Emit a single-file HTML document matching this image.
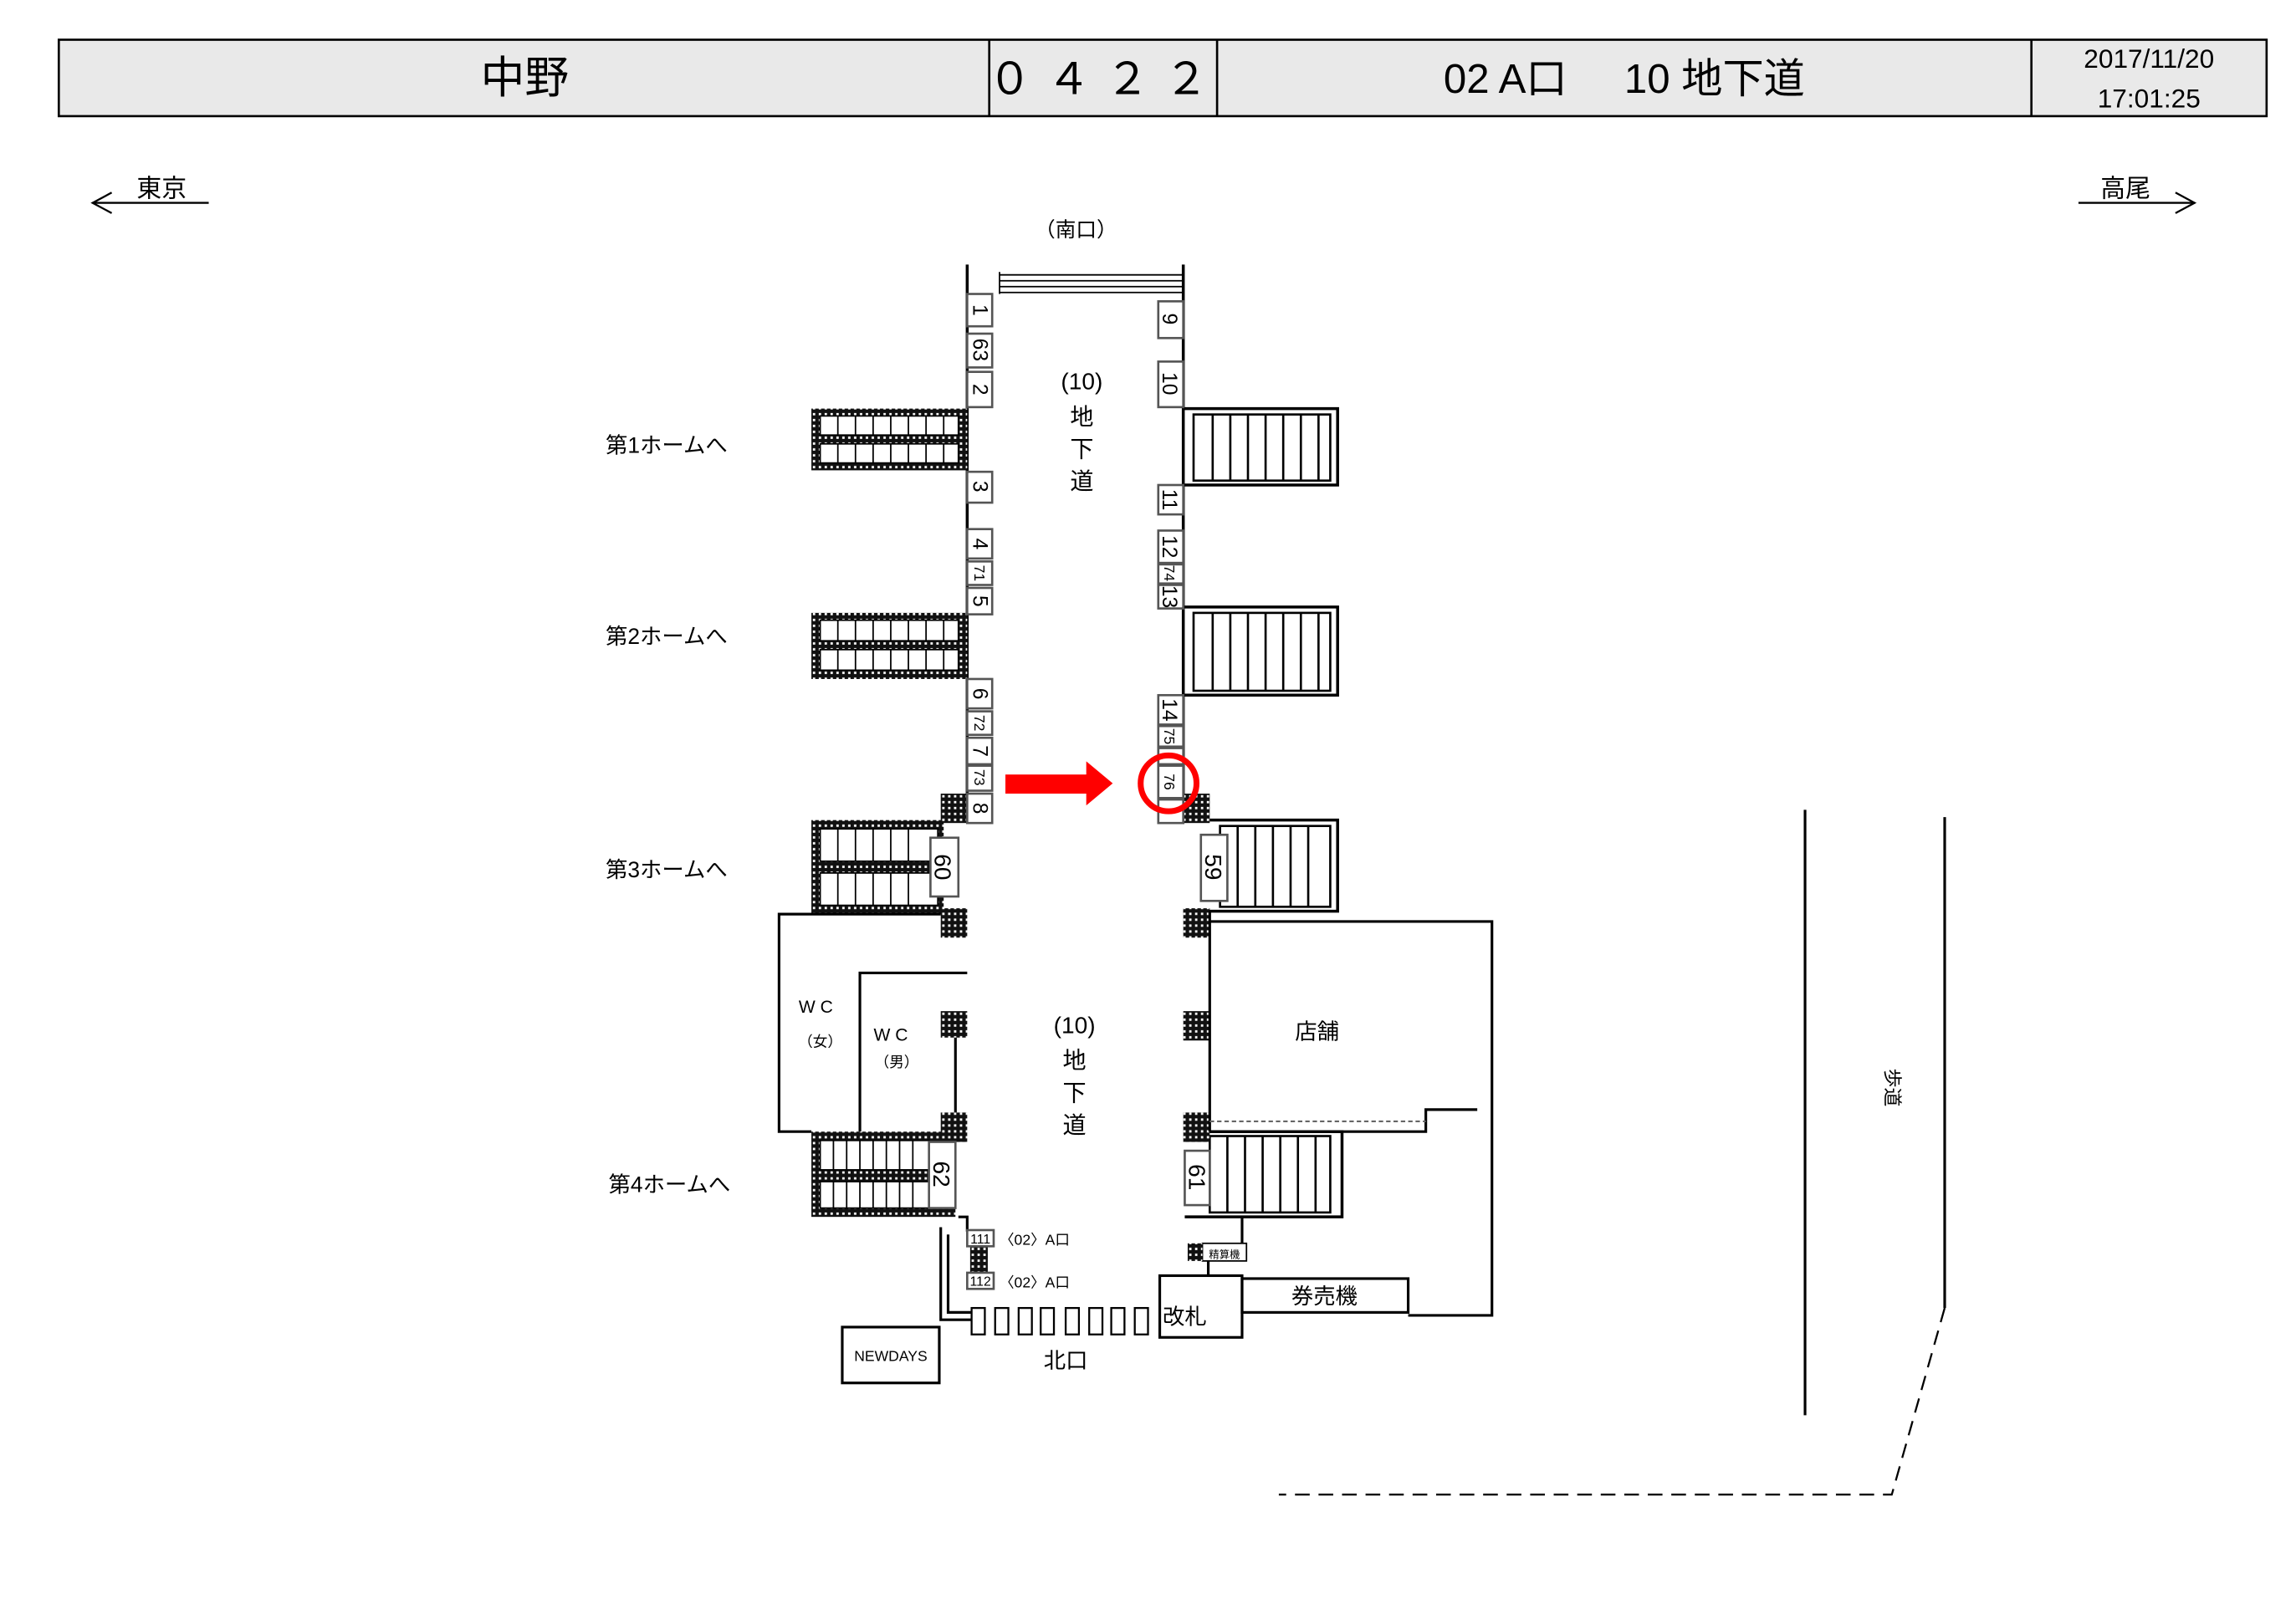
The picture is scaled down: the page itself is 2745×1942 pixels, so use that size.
<!DOCTYPE html>
<html><head><meta charset="utf-8"><style>
html,body{margin:0;padding:0;background:#fff;}
svg{display:block;}
text{font-family:"Liberation Sans","Noto Sans CJK JP",sans-serif;fill:#000;}
</style></head><body>
<svg width="2745" height="1942" viewBox="0 0 1562 1105" xmlns="http://www.w3.org/2000/svg">
<defs>
<pattern id="dots" width="4" height="4" patternUnits="userSpaceOnUse">
<rect width="4" height="4" fill="#111"/><rect x="1" y="1" width="1.6" height="1.6" fill="#fff"/>
</pattern>
</defs>
<rect width="1562" height="1105" fill="#fff"/>
<rect x="40" y="27" width="1502" height="52" fill="#e9e9e9" stroke="#000" stroke-width="1.5"/>
<line x1="673" y1="27" x2="673" y2="79" stroke="#000" stroke-width="1.5"/>
<line x1="828" y1="27" x2="828" y2="79" stroke="#000" stroke-width="1.5"/>
<line x1="1382" y1="27" x2="1382" y2="79" stroke="#000" stroke-width="1.5"/>
<text x="357" y="63" font-size="30" text-anchor="middle">中野</text>
<text x="752" y="64" font-size="30" text-anchor="middle" letter-spacing="10">０４２２</text>
<text x="1105" y="63" font-size="28" text-anchor="middle" xml:space="preserve">02 A口     10 地下道</text>
<text x="1462" y="46" font-size="18" text-anchor="middle">2017/11/20</text>
<text x="1462" y="73" font-size="18" text-anchor="middle">17:01:25</text>
<g stroke="#000" stroke-width="1.3" fill="none">
<line x1="63" y1="138" x2="142" y2="138"/><polyline points="76,131 63,138 76,145"/>
<line x1="1414" y1="138" x2="1493" y2="138"/><polyline points="1480,131 1493,138 1480,145"/>
</g>
<text x="110" y="134" font-size="17" text-anchor="middle">東京</text>
<text x="1446" y="134" font-size="17" text-anchor="middle">高尾</text>
<text x="732" y="161" font-size="14" text-anchor="middle">（南口）</text>

<g stroke="#000" stroke-width="2" fill="none">
<line x1="658" y1="180" x2="658" y2="560"/>
<line x1="805" y1="180" x2="805" y2="560"/>
</g>
<g stroke="#000" stroke-width="1">
<line x1="680" y1="185" x2="680" y2="200"/>
<line x1="680" y1="187" x2="805" y2="187"/><line x1="680" y1="191" x2="805" y2="191"/>
<line x1="680" y1="195" x2="805" y2="195"/><line x1="680" y1="199" x2="805" y2="199"/>
</g>

<g>
<rect x="552" y="278" width="106" height="42" fill="url(#dots)"/>
<rect x="558" y="283" width="94" height="13" fill="#fff" stroke="#000"/>
<rect x="558" y="302" width="94" height="13" fill="#fff" stroke="#000"/>
<rect x="552" y="417" width="106" height="45" fill="url(#dots)"/>
<rect x="558" y="422" width="94" height="14" fill="#fff" stroke="#000"/>
<rect x="558" y="442" width="94" height="14" fill="#fff" stroke="#000"/>
<rect x="552" y="558" width="90" height="64" fill="url(#dots)"/>
<rect x="558" y="564" width="80" height="22" fill="#fff" stroke="#000"/>
<rect x="558" y="594" width="80" height="22" fill="#fff" stroke="#000"/>
<rect x="640" y="540" width="18" height="20" fill="url(#dots)"/>
<rect x="640" y="618" width="18" height="20" fill="url(#dots)"/>
<rect x="552" y="770" width="98" height="58" fill="url(#dots)"/>
<rect x="558" y="776" width="74" height="20" fill="#fff" stroke="#000"/>
<rect x="558" y="804" width="74" height="18" fill="#fff" stroke="#000"/>
</g>
<g stroke="#000" stroke-width="1">
<path d="M570,283v13M582,283v13M594,283v13M606,283v13M618,283v13M630,283v13M642,283v13M570,302v13M582,302v13M594,302v13M606,302v13M618,302v13M630,302v13M642,302v13"/>
<path d="M570,422v14M582,422v14M594,422v14M606,422v14M618,422v14M630,422v14M642,422v14M570,442v14M582,442v14M594,442v14M606,442v14M618,442v14M630,442v14M642,442v14"/>
<path d="M570,564v22M582,564v22M594,564v22M606,564v22M618,564v22M570,594v22M582,594v22M594,594v22M606,594v22M618,594v22"/>
<path d="M567,776v20M576,776v20M585,776v20M594,776v20M603,776v20M612,776v20M621,776v20M567,804v18M576,804v18M585,804v18M594,804v18M603,804v18M612,804v18M621,804v18"/>
</g>

<g stroke="#000" fill="none">
<path d="M805,278H910V330H805" stroke-width="2"/>
<rect x="812" y="282" width="93" height="45" stroke-width="1.5"/>
<path d="M805,413H910V473H805" stroke-width="2"/>
<rect x="812" y="417" width="93" height="53" stroke-width="1.5"/>
<path d="M823,558H910V620H805" stroke-width="2"/>
<rect x="830" y="562" width="75" height="55" stroke-width="1.5"/>
<path d="M812,770H913V828H806" stroke-width="2"/>
<rect x="823" y="773" width="82" height="52" stroke-width="1.5"/>
<path d="M825,282v45M837,282v45M849,282v45M861,282v45M873,282v45M885,282v45M897,282v45" stroke-width="1.5"/>
<path d="M825,417v53M837,417v53M849,417v53M861,417v53M873,417v53M885,417v53M897,417v53" stroke-width="1.5"/>
<path d="M842,562v55M854,562v55M866,562v55M878,562v55M890,562v55" stroke-width="1.5"/>
<path d="M835,773v52M847,773v52M859,773v52M871,773v52M883,773v52M895,773v52" stroke-width="1.5"/>
</g>
<rect x="805" y="540" width="18" height="20" fill="url(#dots)"/>
<rect x="805" y="618" width="18" height="20" fill="url(#dots)"/>
<rect x="805" y="688" width="18" height="20" fill="url(#dots)"/>
<rect x="805" y="757" width="18" height="20" fill="url(#dots)"/>
<rect x="640" y="688" width="18" height="18" fill="url(#dots)"/>
<rect x="640" y="757" width="18" height="20" fill="url(#dots)"/>

<g stroke="#000" stroke-width="1.8" fill="none">
<path d="M640,622H530V770H552"/>
<path d="M585,770V662H658"/>
<line x1="650" y1="706" x2="650" y2="757"/>
<line x1="823" y1="627" x2="823" y2="770"/>
<path d="M823,627H1015V895H958"/>
<path d="M913,770H970V755H1005"/>
<path d="M823,620V627"/>
<path d="M652,828H658V838"/>
<path d="M640,835V898H661"/>
<path d="M645,840V893H661"/>
<rect x="789" y="868" width="56" height="42"/>
<rect x="845" y="870" width="113" height="23"/>
<path d="M822,858V868"/>
<path d="M845,828V846"/>
<rect x="573" y="903" width="66" height="38"/>
<line x1="1228" y1="551" x2="1228" y2="963"/>
<line x1="1323" y1="556" x2="1323" y2="890"/>
</g>
<line x1="823" y1="763" x2="970" y2="763" stroke="#666" stroke-width="1.2" stroke-dasharray="3,2"/>
<path d="M1323,890L1287,1017H870" stroke="#000" stroke-width="1.3" fill="none" stroke-dasharray="10,6"/>
<rect x="818" y="846" width="30" height="12" fill="#fff" stroke="#000"/>
<rect x="808" y="846" width="10" height="12" fill="url(#dots)"/>
<text x="833" y="856" font-size="7" text-anchor="middle">精算機</text>
<rect x="660" y="848" width="12" height="18" fill="url(#dots)"/>
<rect x="658" y="837" width="18" height="11" fill="#fff" stroke="#555" stroke-width="1.5"/>
<rect x="658" y="866" width="18" height="11" fill="#fff" stroke="#555" stroke-width="1.5"/>
<text x="667" y="846" font-size="9" text-anchor="middle">111</text>
<text x="667" y="875" font-size="9" text-anchor="middle">112</text>
<text x="680" y="847" font-size="10">〈02〉A口</text>
<text x="680" y="876" font-size="10">〈02〉A口</text>
<g fill="#fff" stroke="#000" stroke-width="1.3">
<rect x="661" y="890" width="9" height="18"/><rect x="677" y="890" width="9" height="18"/>
<rect x="693" y="890" width="9" height="18"/><rect x="708" y="890" width="9" height="18"/>
<rect x="725" y="890" width="9" height="18"/><rect x="741" y="890" width="9" height="18"/>
<rect x="756" y="890" width="9" height="18"/><rect x="772" y="890" width="9" height="18"/>
</g>

<g fill="#fff" stroke="#555" stroke-width="1.5">
<rect x="658" y="200" width="17" height="22"/><rect x="658" y="227" width="17" height="23"/>
<rect x="658" y="253" width="17" height="24"/><rect x="658" y="321" width="17" height="21"/>
<rect x="658" y="360" width="17" height="20"/><rect x="658" y="382" width="17" height="16"/>
<rect x="658" y="400" width="17" height="18"/><rect x="658" y="462" width="17" height="20"/>
<rect x="658" y="484" width="17" height="16"/><rect x="658" y="502" width="17" height="18"/>
<rect x="658" y="521" width="17" height="17"/><rect x="658" y="540" width="17" height="20"/>
<rect x="788" y="205" width="17" height="25"/><rect x="788" y="246" width="17" height="31"/>
<rect x="788" y="330" width="17" height="20"/><rect x="788" y="361" width="17" height="22"/>
<rect x="788" y="384" width="17" height="13"/><rect x="788" y="398" width="17" height="16"/>
<rect x="788" y="473" width="17" height="20"/><rect x="788" y="494" width="17" height="14"/>
<rect x="788" y="509" width="17" height="11"/><rect x="788" y="521" width="17" height="22"/>
<rect x="788" y="544" width="17" height="16"/>
<rect x="633" y="570" width="19" height="40"/><rect x="817" y="568" width="18" height="45"/>
<rect x="632" y="777" width="18" height="45"/><rect x="806" y="783" width="17" height="37"/>
</g>
<g font-size="14">
<text transform="translate(667,211) rotate(90)" text-anchor="middle" dy="5">1</text>
<text transform="translate(667,238) rotate(90)" text-anchor="middle" dy="5">63</text>
<text transform="translate(667,265) rotate(90)" text-anchor="middle" dy="5">2</text>
<text transform="translate(667,331) rotate(90)" text-anchor="middle" dy="5">3</text>
<text transform="translate(667,370) rotate(90)" text-anchor="middle" dy="5">4</text>
<text transform="translate(667,390) rotate(90)" text-anchor="middle" dy="4" font-size="10">71</text>
<text transform="translate(667,409) rotate(90)" text-anchor="middle" dy="5">5</text>
<text transform="translate(667,472) rotate(90)" text-anchor="middle" dy="5">6</text>
<text transform="translate(667,492) rotate(90)" text-anchor="middle" dy="4" font-size="10">72</text>
<text transform="translate(667,511) rotate(90)" text-anchor="middle" dy="5">7</text>
<text transform="translate(667,529) rotate(90)" text-anchor="middle" dy="4" font-size="10">73</text>
<text transform="translate(667,550) rotate(90)" text-anchor="middle" dy="5">8</text>
<text transform="translate(796,217) rotate(90)" text-anchor="middle" dy="5">9</text>
<text transform="translate(796,261) rotate(90)" text-anchor="middle" dy="5">10</text>
<text transform="translate(796,340) rotate(90)" text-anchor="middle" dy="5">11</text>
<text transform="translate(796,372) rotate(90)" text-anchor="middle" dy="5">12</text>
<text transform="translate(796,390) rotate(90)" text-anchor="middle" dy="4" font-size="10">74</text>
<text transform="translate(796,406) rotate(90)" text-anchor="middle" dy="5">13</text>
<text transform="translate(796,483) rotate(90)" text-anchor="middle" dy="5">14</text>
<text transform="translate(796,501) rotate(90)" text-anchor="middle" dy="4" font-size="10">75</text>
<text transform="translate(796,532) rotate(90)" text-anchor="middle" dy="4" font-size="10">76</text>
<text transform="translate(642,590) rotate(90)" text-anchor="middle" dy="6" font-size="16">60</text>
<text transform="translate(826,590) rotate(90)" text-anchor="middle" dy="6" font-size="16">59</text>
<text transform="translate(641,799) rotate(90)" text-anchor="middle" dy="6" font-size="16">62</text>
<text transform="translate(815,801) rotate(90)" text-anchor="middle" dy="6" font-size="16">61</text>
</g>

<g font-size="16">
<text x="736" y="265" text-anchor="middle">(10)</text>
<text x="736" y="289" text-anchor="middle">地</text>
<text x="736" y="311" text-anchor="middle">下</text>
<text x="736" y="333" text-anchor="middle">道</text>
<text x="731" y="703" text-anchor="middle">(10)</text>
<text x="731" y="727" text-anchor="middle">地</text>
<text x="731" y="749" text-anchor="middle">下</text>
<text x="731" y="771" text-anchor="middle">道</text>
</g>
<g font-size="15">
<text x="412" y="308">第1ホームへ</text>
<text x="412" y="438">第2ホームへ</text>
<text x="412" y="597">第3ホームへ</text>
<text x="414" y="811">第4ホームへ</text>
<text x="896" y="707" text-anchor="middle">店舗</text>
<text x="901" y="887" text-anchor="middle">券売機</text>
<text x="806" y="901" text-anchor="middle">改札</text>
<text x="725" y="931" text-anchor="middle">北口</text>
</g>
<text x="555" y="689" font-size="12" text-anchor="middle">W C</text>
<text x="558" y="712" font-size="10" text-anchor="middle">（女）</text>
<text x="606" y="708" font-size="12" text-anchor="middle">W C</text>
<text x="610" y="726" font-size="10" text-anchor="middle">（男）</text>
<text x="606" y="926" font-size="10" text-anchor="middle">NEWDAYS</text>
<text transform="translate(1283,740) rotate(90)" font-size="13" text-anchor="middle">歩道</text>

<rect x="684" y="527" width="56" height="13" fill="#f00"/>
<polygon points="739,518 757,533 739,548" fill="#f00"/>
<circle cx="795" cy="533" r="19" fill="none" stroke="#f00" stroke-width="4"/>
</svg>
</body></html>
